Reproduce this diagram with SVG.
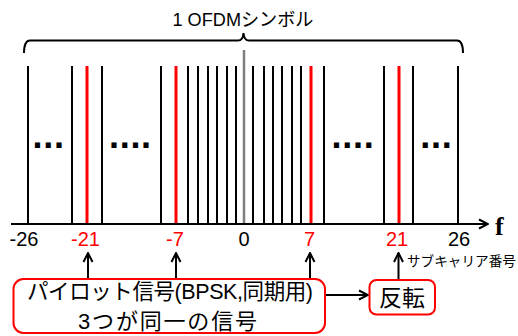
<svg xmlns="http://www.w3.org/2000/svg" width="518" height="336" viewBox="0 0 518 336">
<defs>
<style>
.k{stroke:#000;stroke-width:2;fill:none}
.r{stroke:#ff0000;stroke-width:3;fill:none}
.g{stroke:#7f7f7f;stroke-width:2.5;fill:none}
.lab{font-family:"Liberation Sans","Noto Sans CJK JP",sans-serif;font-size:20px;text-anchor:middle}
.red{fill:#ff0000}
.dots{font-family:"Liberation Sans",Arial,sans-serif;font-weight:bold;font-size:36px;letter-spacing:0.7px;fill:#000}
.jp{font-family:"Liberation Sans","Noto Sans CJK JP",sans-serif;fill:#000}
.box{fill:#fff;stroke:#ff0000;stroke-width:2}
</style>
<marker id="ah" viewBox="0 0 12 12" refX="11" refY="6" markerWidth="12" markerHeight="12" markerUnits="userSpaceOnUse" orient="auto">
<path d="M2,1.5 L11,6 L2,10.5" fill="none" stroke="#000" stroke-width="2"/>
</marker>
</defs>
<rect width="518" height="336" fill="#fff"/>

<g id="title">
<text class="jp" x="243" y="26" font-size="18.5" text-anchor="middle" textLength="141" lengthAdjust="spacingAndGlyphs">1 OFDMシンボル</text>
<path class="k" d="M24,53 Q24,40.5 30,40.5 L238,40.5 Q243,40.5 243.5,33 Q244,40.5 249,40.5 L457,40.5 Q463,40.5 463,53"/>
</g>

<g id="subcarriers">
<path class="k" d="M28,66V224 M72,66V224 M102,66V224 M161,66V224 M188,66V224 M198,66V224 M208,66V224 M217,66V224 M227,66V224 M236,66V224 M253,66V224 M264,66V224 M273,66V224 M282,66V224 M292,66V224 M301,66V224 M324,66V224 M384,66V224 M413,66V224 M458,66V224"/>
<path class="r" d="M87,66V224 M176,66V224 M311,66V224 M399,66V224"/>
<path class="g" d="M244,50V224"/>
<text class="dots" x="32.5" y="147.5">...</text>
<text class="dots" x="109" y="147.5">....</text>
<text class="dots" x="331.6" y="147.5">....</text>
<text class="dots" x="420.3" y="147.5">...</text>
</g>

<g id="axis">
<line class="k" x1="11" y1="224" x2="488" y2="224" marker-end="url(#ah)"/>
<text x="495" y="235" font-family="'Liberation Serif',serif" font-weight="bold" font-size="26">f</text>
<text class="lab" x="24" y="246">-26</text>
<text class="lab red" x="85.5" y="246">-21</text>
<text class="lab red" x="175" y="246">-7</text>
<text class="lab" x="244" y="246">0</text>
<text class="lab red" x="309.5" y="246">7</text>
<text class="lab red" x="397" y="246">21</text>
<text class="lab" x="459" y="246">26</text>
<text class="jp" x="407" y="265.5" font-size="13.5" textLength="109" lengthAdjust="spacingAndGlyphs">サブキャリア番号</text>
</g>

<g id="connectors">
<line class="k" x1="88" y1="279" x2="88" y2="253" marker-end="url(#ah)"/>
<line class="k" x1="176" y1="279" x2="176" y2="253" marker-end="url(#ah)"/>
<line class="k" x1="310" y1="279" x2="310" y2="253" marker-end="url(#ah)"/>
<line class="k" x1="398.5" y1="280" x2="398.5" y2="253" marker-end="url(#ah)"/>
<line class="k" x1="325" y1="295" x2="368" y2="295" marker-end="url(#ah)"/>
</g>

<g id="pilot">
<rect class="box" x="13.5" y="279" width="311.5" height="54" rx="10"/>
<text class="jp" x="170" y="298.5" font-size="21.5" text-anchor="middle" textLength="286">パイロット信号(BPSK,同期用)</text>
<text class="jp" x="167.5" y="328.5" font-size="22" text-anchor="middle" textLength="179">3つが同一の信号</text>
</g>

<g id="invert">
<rect class="box" x="369.5" y="280" width="65.5" height="34.5" rx="7"/>
<text class="jp" x="402" y="305.5" font-size="23" text-anchor="middle">反転</text>
</g>
</svg>
